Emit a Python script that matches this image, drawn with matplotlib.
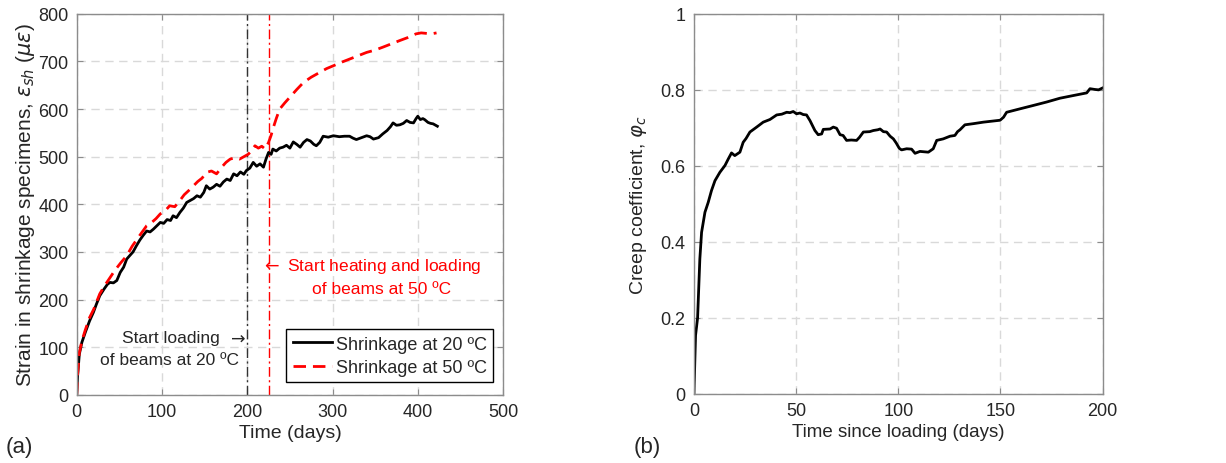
import matplotlib

matplotlib.use("Agg")
import matplotlib.pyplot as plt

plt.rcParams["font.family"] = ["Liberation Sans", "DejaVu Sans"]
plt.rcParams["mathtext.fontset"] = "dejavusans"

# (a) shrinkage strain, 20 C specimens
days_20 = [0, 1, 3, 6, 10, 15, 19.5, 23, 27, 32, 36, 39, 43, 47, 51, 55, 58.6, 62, 66, 70,
           74, 78, 82, 86, 90, 94, 98, 102, 106, 110, 113, 117, 121, 125, 129, 133, 137,
           141, 145, 149, 152, 156, 160, 164, 168, 172, 176, 180, 184, 188, 192, 196, 199,
           203, 207, 211, 215, 219, 222, 225, 228, 230, 234, 238, 242, 246, 250, 254, 258,
           262, 266, 270, 274, 278, 281, 285, 289, 295, 301, 308, 314, 320, 324, 328, 334,
           340, 344, 348, 354, 359, 364, 368, 371, 375, 379, 383, 387, 391, 395, 398, 400,
           403, 406, 408, 412, 415, 418, 421, 423]
strain_20 = [0, 40, 85, 110, 131, 155, 173, 190, 208, 222, 232, 236, 235, 240, 257, 268, 285,
             292, 300, 313, 325, 335, 344, 342, 348, 355, 362, 360, 368, 366, 376, 372, 383,
             392, 404, 408, 412, 418, 415, 425, 439, 432, 436, 442, 438, 447, 453, 450, 464,
             460, 468, 463, 471, 476, 488, 480, 485, 478, 495, 509, 505, 516, 512, 518, 520,
             524, 518, 531, 526, 520, 530, 536, 533, 526, 523, 530, 543, 541, 544, 542, 543,
             543, 539, 536, 540, 544, 542, 537, 540, 548, 555, 563, 571, 566, 567, 570, 576,
             572, 571, 580, 585, 578, 580, 578, 572, 570, 569, 566, 564]

# (a) shrinkage strain, 50 C specimens
days_50 = [0, 1, 3, 6, 10, 15, 20, 27, 33, 39, 45, 52, 58.6, 65, 72, 78, 82, 88, 93, 98, 103,
           109, 115, 121, 126, 132, 137, 142, 147, 152, 158, 164, 170, 175, 180, 186, 191,
           196, 201, 205, 209, 213, 217, 221, 225, 228, 230, 234, 238, 244, 250, 258, 266,
           275, 285, 293, 301, 310, 320, 330, 340, 350, 359, 369, 379, 388, 398, 404, 410,
           416, 422]
strain_50 = [0, 42, 88, 113, 136, 162, 180, 212, 230, 246, 262, 278, 292, 312, 330, 345, 355,
             362, 370, 380, 385, 397, 395, 408, 420, 430, 439, 448, 455, 467, 470, 464, 478,
             488, 495, 498, 495, 500, 505, 512, 523, 518, 522, 516, 530, 545, 558, 580, 600,
             613, 625, 641, 656, 667, 677, 685, 691, 698, 705, 712, 719, 724, 730, 737, 744,
             750, 758, 760, 759, 758, 760]

load_20_day = 200
load_50_day = 225

# (b) creep coefficient
days_creep = [0, 0.8, 1.8, 2.9, 3.75, 5.4, 7.0, 8.6, 10.3, 12.7, 15.2, 16.8, 18.4, 20, 22.5,
              24.1, 25.5, 27.4, 30.7, 33.9, 37.2, 40.5, 43, 45.4, 47, 48.6, 50.2, 51.9, 53.5,
              55.1, 56.8, 59.2, 60.8, 62.5, 63.3, 66.6, 68.2, 69.8, 71.5, 73, 74.7, 77, 79.6,
              81, 82.9, 86, 87.8, 90, 91.1, 92.7, 94.3, 96, 97.6, 99, 100.5, 101.6, 104.1,
              106.5, 108.2, 110.6, 114.7, 117.1, 118.8, 122.0, 125.3, 127.7, 129, 130.2,
              132.6, 136.7, 141.6, 148.1, 149.8, 151.5, 153.0, 159.5, 166.1, 172.6, 179.1,
              185.6, 192.2, 193.8, 196.2, 198, 200]
creep_coef = [0, 0.154, 0.20, 0.355, 0.425, 0.478, 0.504, 0.535, 0.561, 0.583, 0.601, 0.618,
              0.634, 0.627, 0.636, 0.662, 0.672, 0.689, 0.702, 0.715, 0.722, 0.734, 0.736,
              0.741, 0.740, 0.743, 0.737, 0.739, 0.735, 0.734, 0.719, 0.693, 0.682, 0.684,
              0.696, 0.697, 0.702, 0.699, 0.682, 0.680, 0.667, 0.668, 0.667, 0.675, 0.689,
              0.690, 0.693, 0.695, 0.697, 0.690, 0.689, 0.678, 0.671, 0.660, 0.646, 0.642,
              0.645, 0.644, 0.633, 0.638, 0.636, 0.645, 0.667, 0.671, 0.678, 0.680, 0.690,
              0.695, 0.708, 0.711, 0.715, 0.719, 0.720, 0.728, 0.741, 0.750, 0.759, 0.768,
              0.778, 0.785, 0.792, 0.803, 0.801, 0.800, 0.805]

text_color = "#262626"
spine_color = "#8c8c8c"
grid_color = "#d9d9d9"


def style_axes(ax):
    ax.grid(True, color=grid_color, linestyle=(0, (6, 4)), linewidth=1)
    ax.set_axisbelow(True)
    ax.tick_params(direction="in", top=True, right=True, length=4, width=0.8,
                   colors=spine_color, labelcolor=text_color, labelsize=13, pad=6)
    for spine in ax.spines.values():
        spine.set_color(spine_color)
        spine.set_linewidth(1)


fig = plt.figure(figsize=(12.26, 4.64), dpi=100)
ax1 = fig.add_axes([0.0626, 0.147, 0.3477, 0.821])
ax2 = fig.add_axes([0.566, 0.149, 0.3334, 0.819])

# panel (a)
style_axes(ax1)
ax1.axvline(load_20_day, color="#333333", linestyle=(0, (7, 2.5, 1.5, 2.5)), linewidth=1)
ax1.axvline(load_50_day, color="#ff0000", linestyle=(0, (7, 2.5, 1.5, 2.5)), linewidth=1)
ax1.plot(days_20, strain_20, color="black", linewidth=2, label="Shrinkage at 20 ºC")
ax1.plot(days_50, strain_50, color="#ff0000", linewidth=2, linestyle=(0, (4.5, 2.5)),
         label="Shrinkage at 50 ºC")
ax1.set_xlim(0, 500)
ax1.set_ylim(0, 800)
ax1.set_xticks(range(0, 501, 100))
ax1.set_yticks(range(0, 801, 100))
ax1.set_xlabel("Time (days)", fontsize=14, color=text_color, labelpad=3)
ax1.set_ylabel(r"Strain in shrinkage specimens, $\epsilon_{sh}$ ($\mu\epsilon$)",
               fontsize=15, color=text_color, labelpad=1)

ann = dict(fontsize=12.5, ha="center", va="center")
ax1.text(110, 120, "Start loading", color=text_color, **ann)
ax1.text(187, 121, r"$\rightarrow$", color=text_color, **ann)
ax1.text(109, 75, "of beams at 20 ºC", color=text_color, **ann)
ax1.text(345, 271, r"$\leftarrow$ Start heating and loading", color="#ff0000", **ann)
ax1.text(358, 224, "of beams at 50 ºC", color="#ff0000", **ann)

leg = ax1.legend(loc="lower right", bbox_to_anchor=(0.977, 0.033), borderaxespad=0,
                 fontsize=13, fancybox=False, framealpha=1, edgecolor="black",
                 handlelength=2.2, handletextpad=0.2, borderpad=0.35, labelspacing=0.35)
leg.get_frame().set_linewidth(1)
for t in leg.get_texts():
    t.set_color(text_color)

# panel (b)
style_axes(ax2)
ax2.plot(days_creep, creep_coef, color="black", linewidth=2)
ax2.set_xlim(0, 200)
ax2.set_ylim(0, 1)
ax2.set_xticks([0, 50, 100, 150, 200])
ax2.set_yticks([0, 0.2, 0.4, 0.6, 0.8, 1])
ax2.set_yticklabels(["0", "0.2", "0.4", "0.6", "0.8", "1"])
ax2.set_xlabel("Time since loading (days)", fontsize=13.5, color=text_color, labelpad=3)
ax2.set_ylabel(r"Creep coefficient, $\varphi_c$", fontsize=14, color=text_color, labelpad=8)

fig.text(0.016, 0.036, "(a)", fontsize=16, color=text_color, ha="center", va="center")
fig.text(0.528, 0.036, "(b)", fontsize=16, color=text_color, ha="center", va="center")

fig.savefig("out.png", dpi=100)
